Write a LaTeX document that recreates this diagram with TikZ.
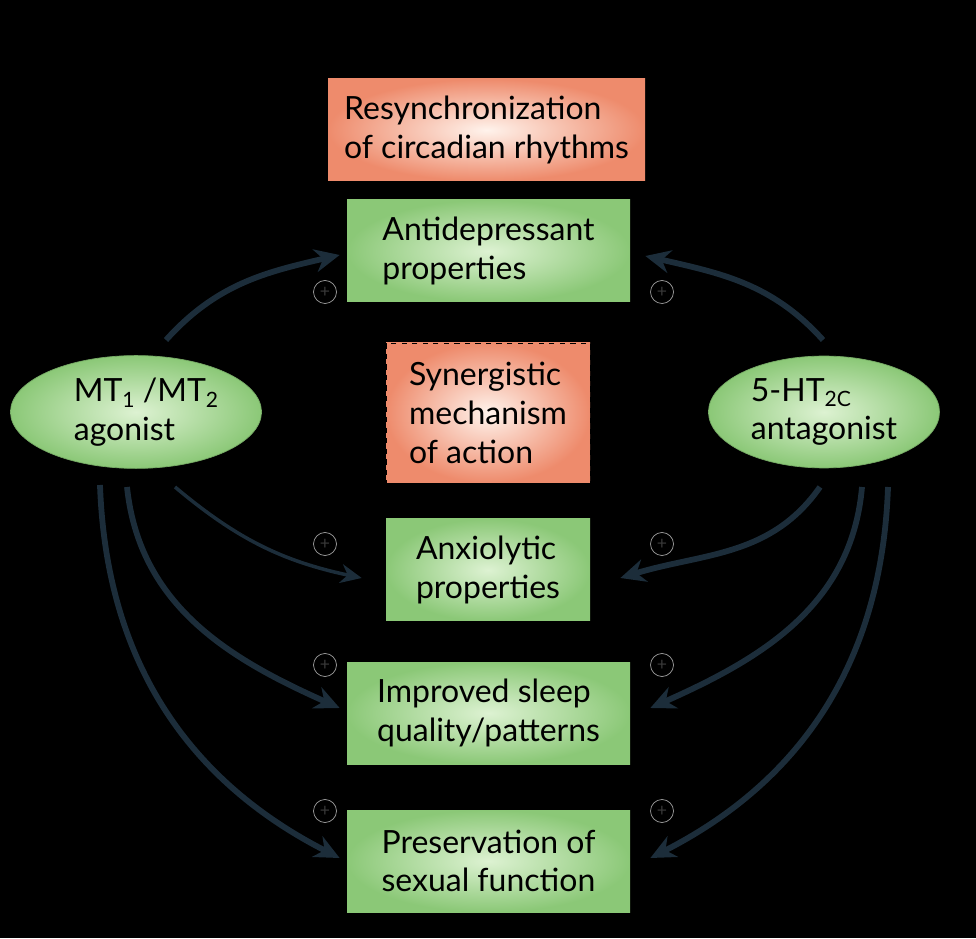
\documentclass[tikz,border=0pt]{standalone}
\usepackage{fontspec}
\setmainfont{Lato}
\usetikzlibrary{arrows.meta, shapes.geometric}
\definecolor{boxgreen}{HTML}{8BC877}
\definecolor{boxgreenin}{HTML}{DDF2D2}
\definecolor{boxsalmon}{HTML}{EE8B6C}
\definecolor{boxsalmonin}{HTML}{FFF3EC}
\definecolor{arrowc}{HTML}{1C2D3A}
\newcommand{\lowsub}[1]{\raisebox{-0.35ex}{\fontsize{12}{12}\selectfont #1}}
\begin{document}
\begin{tikzpicture}[
    font=\fontsize{18.2}{22}\selectfont,
    effect/.style={rectangle, inner color=boxgreenin, outer color=boxgreen, minimum width=5.66cm, minimum height=2.04cm, align=left},
    effectsm/.style={effect, minimum width=4.08cm},
    mech/.style={rectangle, inner color=boxsalmonin, outer color=boxsalmon, minimum height=2.04cm, align=left},
    drug/.style={ellipse, draw=boxgreen!85!black, thin, inner color=boxgreenin, outer color=boxgreen, minimum height=2.1cm, align=left},
    sign/.style={circle, draw=gray!75, thin, minimum size=0.46cm, inner sep=0pt, text=gray!45!black, font=\normalsize},
    arr/.style={-{Stealth[length=5mm, width=4.6mm]}, line width=3.3pt, arrowc},
    arrthin/.style={-{Stealth[length=4.2mm, width=3.8mm]}, line width=2pt, arrowc}
  ]
    \fill[black] (0,0) rectangle (19.52,18.76);
    \useasboundingbox (0,0) rectangle (19.52,18.76);

    \node[mech, minimum width=6.34cm] (resync) at (9.73,16.16) {Resynchronization\\of circadian rhythms};
    \node[effect]   (antidep) at (9.77,13.74) {Antidepressant\\properties};
    \node[mech, draw=black, dashed, thin, minimum width=4.08cm, minimum height=2.8cm] (synerg) at (9.76,10.50)
      {Synergistic\\mechanism\\of action};
    \node[effectsm] (anxio)   at (9.76,7.36)  {Anxiolytic\\properties};
    \node[effect]   (sleep)   at (9.77,4.50)  {Improved sleep\\quality/patterns};
    \node[effect]   (sexual)  at (9.77,1.54)  {Preservation of\\sexual function};

    \node[drug, minimum width=5.02cm] (mt) at (2.72,10.52) {\hspace*{4mm}MT\lowsub{1} /MT\lowsub{2}\\\hspace*{4mm}agonist};
    \node[drug, minimum width=4.62cm] (ht) at (16.48,10.52) {5-HT\lowsub{2C}\\antagonist};

    % start points of the connectors
    \coordinate (mt-a) at (3.32,11.96);
    \coordinate (mt-b) at (3.50,9.02);
    \coordinate (mt-c) at (2.54,9.02);
    \coordinate (mt-d) at (2.00,9.06);
    \coordinate (ht-a) at (16.46,11.96);
    \coordinate (ht-b) at (16.40,9.02);
    \coordinate (ht-c) at (17.24,9.02);
    \coordinate (ht-d) at (17.76,9.02);

    \draw[arr] (mt-a) to[out=48, in=193] ([xshift=-1.4mm, yshift=-0.8mm]antidep.west);
    \draw[arrthin] (mt-b) to[out=-40, in=168] ([xshift=-4.8mm, yshift=-1.6mm]anxio.west);
    \draw[arr] (mt-c) to[out=-84, in=156] ([xshift=-1.4mm, yshift=1mm]sleep.west);
    \draw[arr] (mt-d) to[out=-88, in=153] ([xshift=-1.4mm, yshift=0.6mm]sexual.west);

    \draw[arr] (ht-a) to[out=132, in=-13] ([xshift=3mm, yshift=-1mm]antidep.east);
    \draw[arr] (ht-b) to[out=-125, in=17] ([xshift=6mm, yshift=-1.6mm]anxio.east);
    \draw[arr] (ht-c) to[out=-95, in=24] ([xshift=4mm, yshift=1mm]sleep.east);
    \draw[arr] (ht-d) to[out=-92, in=27] ([xshift=4mm, yshift=0.6mm]sexual.east);

    \node[sign] (s1) at (6.50,12.92) {+};
    \node[sign] (s2) at (13.24,12.92) {+};
    \node[sign] (s3) at (6.50,7.88) {+};
    \node[sign] (s4) at (13.24,7.88) {+};
    \node[sign] (s5) at (6.50,5.46) {+};
    \node[sign] (s6) at (13.24,5.46) {+};
    \node[sign] (s7) at (6.50,2.54) {+};
    \node[sign] (s8) at (13.24,2.54) {+};
  \end{tikzpicture}
\end{document}
